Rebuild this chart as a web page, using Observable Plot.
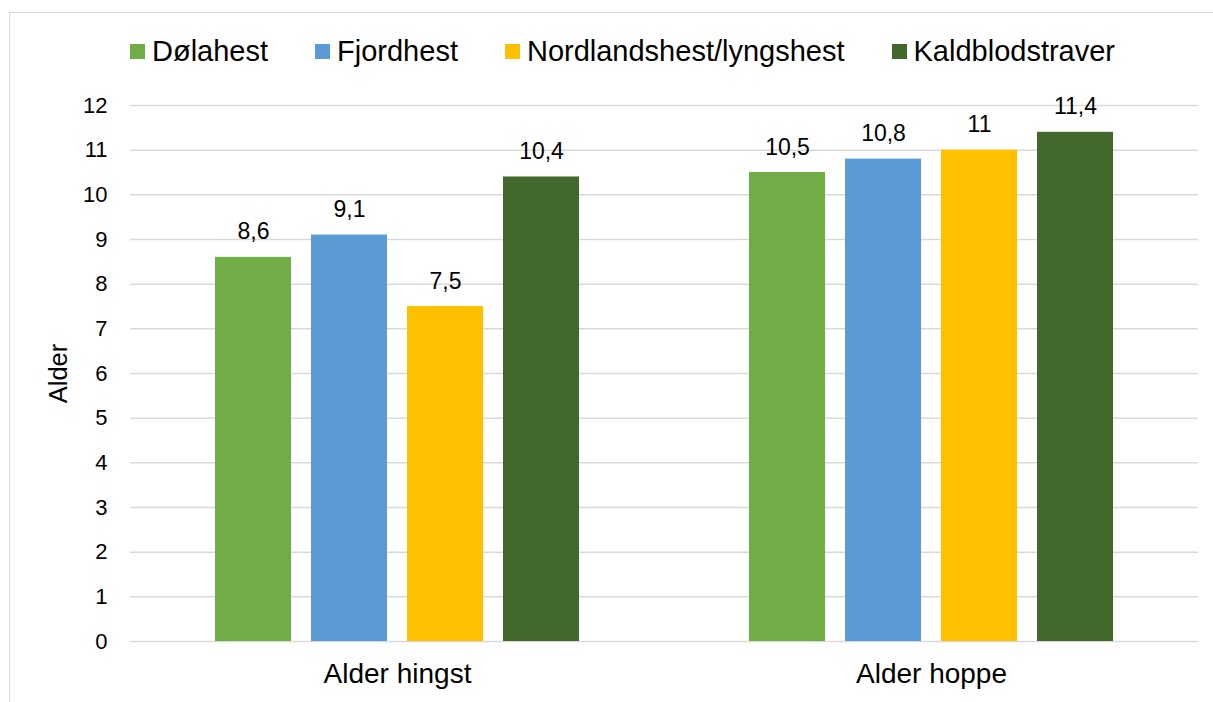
<!DOCTYPE html>
<html>
<head>
<meta charset="utf-8">
<script src="https://cdn.jsdelivr.net/npm/d3@7"></script>
<script src="https://cdn.jsdelivr.net/npm/@observablehq/plot@0.6"></script>
<style>
  html, body { margin: 0; padding: 0; background: #fff; overflow: hidden; }
  body { width: 1213px; height: 702px; position: relative; font-family: "Liberation Sans", Arial, sans-serif; }
  #frame { position: absolute; left: 9px; top: 12px; width: 1400px; height: 900px; border: 1.5px solid #d9d9d9; box-sizing: border-box; }
  #chart { position: absolute; left: 0; top: 0; }
  #legend { position: absolute; left: 130px; top: 35px; display: flex; align-items: center; font-size: 29px; color: #000; white-space: nowrap; }
  .item { display: flex; align-items: center; margin-right: 47px; }
  .sw { width: 15px; height: 15px; margin-right: 7px; }
</style>
</head>
<body>
<div id="frame"></div>
<div id="chart"></div>
<div id="legend"></div>
<script>
const categories = ["Alder hingst", "Alder hoppe"];
const series = ["Dølahest", "Fjordhest", "Nordlandshest/lyngshest", "Kaldblodstraver"];
const colors = ["#70AD47", "#5B9BD5", "#FFC000", "#43682B"];
const valuesHingst = [8.6, 9.1, 7.5, 10.4];
const valuesHoppe = [10.5, 10.8, 11, 11.4];
const yTicks = [0,1,2,3,4,5,6,7,8,9,10,11,12];

const data = [];
series.forEach((s, i) => {
  data.push({cat: categories[0], series: s, value: valuesHingst[i]});
  data.push({cat: categories[1], series: s, value: valuesHoppe[i]});
});

const fmt = v => String(v).replace(".", ",");

const plot = Plot.plot({
  width: 1213,
  height: 702,
  marginLeft: 129,
  marginRight: 15,
  marginTop: 105,
  marginBottom: 61,
  style: {fontFamily: '"Liberation Sans", Arial, sans-serif', color: "#000", background: "transparent", overflow: "visible"},
  fx: {domain: categories, padding: 0, label: null},
  x: {domain: series, paddingInner: 0.21, paddingOuter: 0.88, axis: null},
  y: {domain: [0, 12], label: null},
  color: {domain: series, range: colors},
  marks: [
    Plot.ruleY(yTicks, {stroke: "#d9d9d9", strokeWidth: 1.5}),
    Plot.axisY({ticks: yTicks, tickSize: 0, tickPadding: 23, fontSize: 22, label: null}),
    Plot.text(["Alder"], {frameAnchor: "left", textAnchor: "middle", lineAnchor: "middle", dx: -72, rotate: -90, fontSize: 25.5, fill: "#000", facetAnchor: "left"}),
    Plot.barY(data, {fx: "cat", x: "series", y: "value", fill: "series"}),
    Plot.text(data, {fx: "cat", x: "series", y: "value", text: d => fmt(d.value), lineAnchor: "bottom", dy: -18, fontSize: 23, fill: "#000"}),
    Plot.axisFx({anchor: "bottom", tickSize: 0, tickPadding: 22, fontSize: 28, label: null})
  ]
});
document.getElementById("chart").appendChild(plot);

const legend = document.getElementById("legend");
series.forEach((s, i) => {
  const it = document.createElement("div");
  it.className = "item";
  const sw = document.createElement("div");
  sw.className = "sw";
  sw.style.background = colors[i];
  const t = document.createElement("span");
  t.textContent = s;
  it.appendChild(sw);
  it.appendChild(t);
  legend.appendChild(it);
});
</script>
</body>
</html>
